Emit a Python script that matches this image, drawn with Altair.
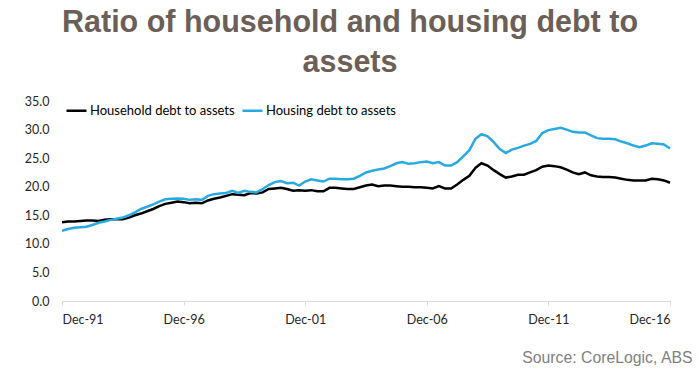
import altair as alt
import pandas as pd

household = [13.8, 13.9, 13.9, 14.0, 14.1, 14.1, 14.0, 14.2, 14.3, 14.3,
             14.3, 14.6, 15.0, 15.3, 15.7, 16.1, 16.6, 17.0, 17.2, 17.4,
             17.3, 17.1, 17.2, 17.1, 17.6, 17.9, 18.1, 18.4, 18.7, 18.6,
             18.5, 18.9, 18.8, 19.0, 19.6, 19.7, 19.8, 19.6, 19.3, 19.4,
             19.3, 19.4, 19.2, 19.2, 19.8, 19.8, 19.7, 19.6, 19.6, 19.9,
             20.2, 20.4, 20.1, 20.2, 20.2, 20.1, 20.0, 20.0, 19.9, 19.9,
             19.8, 19.7, 20.1, 19.7, 19.7, 20.4, 21.2, 21.9, 23.3, 24.1,
             23.7, 22.9, 22.2, 21.6, 21.8, 22.1, 22.1, 22.5, 22.9, 23.5,
             23.7, 23.6, 23.4, 23.0, 22.5, 22.2, 22.5, 22.0, 21.8, 21.7,
             21.7, 21.6, 21.4, 21.2, 21.1, 21.1, 21.1, 21.4, 21.3, 21.1,
             20.7]
housing = [12.3, 12.6, 12.8, 12.9, 13.0, 13.3, 13.7, 13.9, 14.2, 14.4,
           14.6, 15.0, 15.5, 16.1, 16.5, 16.9, 17.4, 17.8, 17.9, 17.95,
           17.9, 17.7, 17.8, 17.7, 18.4, 18.7, 18.8, 18.9, 19.3, 18.9,
           19.3, 19.1, 19.0, 19.6, 20.3, 20.8, 21.0, 20.6, 20.7, 20.2,
           20.9, 21.3, 21.1, 20.9, 21.4, 21.4, 21.3, 21.3, 21.4, 21.9,
           22.5, 22.8, 23.0, 23.2, 23.6, 24.1, 24.3, 24.0, 24.1, 24.3,
           24.4, 24.1, 24.3, 23.7, 23.7, 24.3, 25.3, 26.4, 28.4, 29.2,
           28.8, 27.8, 26.6, 25.9, 26.5, 26.8, 27.2, 27.5, 28.0, 29.4,
           29.9, 30.1, 30.3, 30.0, 29.6, 29.5, 29.5, 29.0, 28.5, 28.4,
           28.4, 28.3, 27.9, 27.6, 27.2, 26.9, 27.2, 27.6, 27.5, 27.4,
           26.7]
series_names = ["Household debt to assets", "Housing debt to assets"]
series_colors = ["#000000", "#29a9e1"]
tick_years = [1991, 1996, 2001, 2006, 2011, 2016]

dates = [pd.Timestamp(year=1991 + (11 + 3 * i) // 12, month=(11 + 3 * i) % 12 + 1, day=15)
         for i in range(len(household))]
rows = []
for d, h, g in zip(dates, household, housing):
    rows.append({"date": d.strftime("%Y-%m-%d"), "series": series_names[0], "value": h})
    rows.append({"date": d.strftime("%Y-%m-%d"), "series": series_names[1], "value": g})
df = pd.DataFrame(rows)

label_font = "Lato"

chart = alt.Chart(df).mark_line(strokeWidth=2.5).encode(
    x=alt.X("date:T",
            scale=alt.Scale(domain=[alt.DateTime(year=1991, month=12, date=15),
                                    alt.DateTime(year=2016, month=12, date=15)], nice=False),
            axis=alt.Axis(values=[alt.DateTime(year=y, month=12, date=15) for y in tick_years],
                          format="%b-%y", grid=False, domainColor="#d9d9d9", tickColor="#d9d9d9",
                          tickSize=4, labelFont=label_font, labelFontSize=12.5, labelColor="#262626",
                          labelPadding=8, title="Source: CoreLogic, ABS", titleFont="Liberation Sans",
                          titleFontWeight="normal", titleFontSize=15.8, titleColor="#7f7f7f",
                          titleX=630, titleY=61, titleAlign="right", titleBaseline="alphabetic",
                          titleAnchor="end")),
    y=alt.Y("value:Q", scale=alt.Scale(domain=[0, 35], nice=False),
            axis=alt.Axis(values=[0, 5, 10, 15, 20, 25, 30, 35], format=".1f", grid=False,
                          domain=False, ticks=False, labelFont=label_font, labelFontSize=12.5,
                          labelColor="#262626", labelPadding=13, title=None)),
    color=alt.Color("series:N",
                    scale=alt.Scale(domain=series_names, range=series_colors),
                    legend=alt.Legend(orient="none", legendX=3, legendY=-2, direction="horizontal",
                                      title=None, symbolType="stroke", symbolSize=400,
                                      symbolStrokeWidth=2.5, labelFont=label_font,
                                      labelFontSize=13, labelColor="#000000", labelOffset=2,
                                      columnPadding=2)),
).properties(
    width=608, height=200,
    padding={"left": 62, "top": 101, "right": 29, "bottom": 74},
    autosize=alt.AutoSizeParams(type="none"),
    title=alt.TitleParams(["Ratio of household and housing debt to", "assets"],
                          font="Liberation Sans", fontSize=30.5, fontWeight="bold",
                          color="#6b5f58", anchor="middle", dx=-16, offset=17, lineHeight=40),
).configure_view(stroke=None)

chart.save("out.html", embed_options={"renderer": "svg", "actions": False})
